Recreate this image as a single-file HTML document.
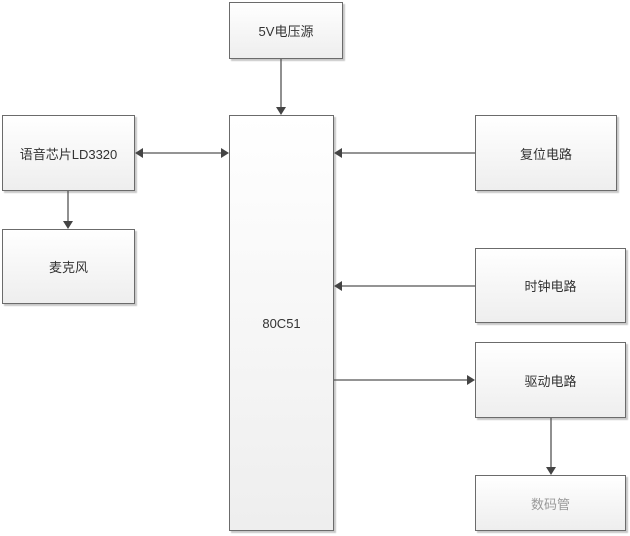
<!DOCTYPE html>
<html><head><meta charset="utf-8"><style>
html,body{margin:0;padding:0;background:#fff;}
body{width:630px;height:536px;position:relative;overflow:hidden;font-family:"Liberation Sans","Noto Sans CJK SC",sans-serif;}
.b{position:absolute;box-sizing:border-box;border:1px solid #6b6b6b;background:linear-gradient(#ffffff,#eeeeee);box-shadow:2px 2px 1px #c8c8c8;display:flex;align-items:center;justify-content:center;font-size:13px;color:#333;}
svg{position:absolute;left:0;top:0;}
</style></head><body>
<div class="b" style="left:229px;top:2px;width:114px;height:57px;">5V电压源</div>
<div class="b" style="left:2px;top:115px;width:133px;height:76px;">语音芯片LD3320</div>
<div class="b" style="left:2px;top:229px;width:133px;height:75px;">麦克风</div>
<div class="b" style="left:229px;top:115px;width:105px;height:416px;">80C51</div>
<div class="b" style="left:475px;top:115px;width:142px;height:76px;">复位电路</div>
<div class="b" style="left:475px;top:248px;width:151px;height:75px;">时钟电路</div>
<div class="b" style="left:475px;top:342px;width:151px;height:76px;">驱动电路</div>
<div class="b" style="left:475px;top:475px;width:151px;height:56px;color:#999;">数码管</div>
<svg width="630" height="536">
<g stroke="#555" stroke-width="1.3" fill="#444">
<line x1="281" y1="59" x2="281" y2="108"/><polygon points="276,107 286,107 281,115" stroke="none"/>
<line x1="142" y1="153" x2="222" y2="153"/><polygon points="135,153 143,148 143,158" stroke="none"/><polygon points="229,153 221,148 221,158" stroke="none"/>
<line x1="68" y1="191" x2="68" y2="222"/><polygon points="63,221 73,221 68,229" stroke="none"/>
<line x1="341" y1="153" x2="475" y2="153"/><polygon points="334,153 342,148 342,158" stroke="none"/>
<line x1="341" y1="286" x2="475" y2="286"/><polygon points="334,286 342,281 342,291" stroke="none"/>
<line x1="334" y1="380" x2="468" y2="380"/><polygon points="475,380 467,375 467,385" stroke="none"/>
<line x1="551" y1="418" x2="551" y2="468"/><polygon points="546,467 556,467 551,475" stroke="none"/>
</g>
</svg>
</body></html>
